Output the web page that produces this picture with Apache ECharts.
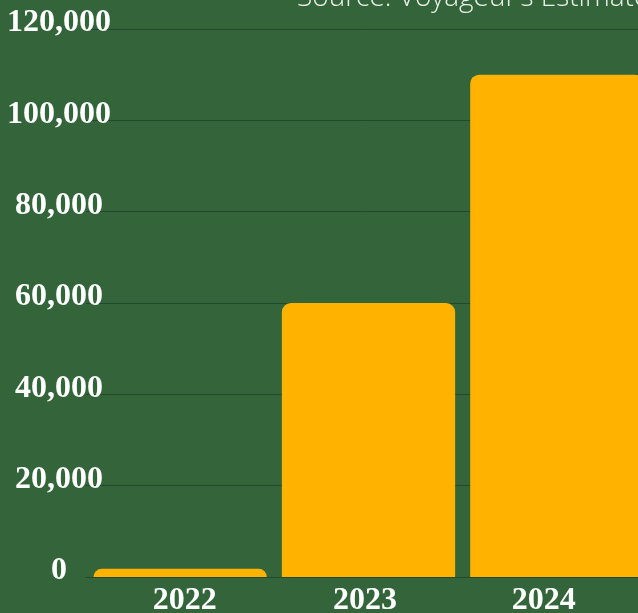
<!DOCTYPE html>
<html>
<head>
<meta charset="utf-8">
<script src="https://cdn.jsdelivr.net/npm/echarts@6/dist/echarts.min.js"></script>
<style>
  html, body { margin: 0; padding: 0; background: #34653a; }
  #chart { width: 638px; height: 613px; }
</style>
</head>
<body>
<div id="chart"></div>
<script>
// Yearly totals
const years = ['2022', '2023', '2024'];
const totals = [1800, 60000, 110000];
const yTicks = [0, 20000, 40000, 60000, 80000, 100000, 120000];
const sourceNote = 'Source: Voyageur\u2019s Estimates';

const BG = '#34653a';
const GRID_LINE = '#24482a';
const BAR = '#ffb300';
const LABEL_FONT = '"Liberation Serif", "DejaVu Serif", serif';

const chart = echarts.init(document.getElementById('chart'), null, { renderer: 'canvas' });

// per-label horizontal nudges for the year labels
const yearRich = {
  y0: { padding: [0, 0, 0, 9] },
  y1: { padding: [0, 7, 0, 0] },
  y2: { padding: [0, 26, 0, 0] }
};

chart.setOption({
  backgroundColor: BG,
  animation: false,
  grid: {
    left: 86, right: -13, top: 29, bottom: 36,
    containLabel: false,
    outerBoundsMode: 'none'
  },
  graphic: [{
    type: 'text',
    left: 297,
    top: -16,
    style: {
      text: sourceNote,
      fill: '#e9efe9',
      font: '300 28px "Open Sans", Lato, sans-serif'
    }
  }],
  xAxis: {
    type: 'category',
    data: years,
    axisTick: { show: false },
    axisLine: { show: true, lineStyle: { color: GRID_LINE, width: 1 } },
    axisLabel: {
      margin: 8,
      color: '#ffffff',
      fontFamily: LABEL_FONT,
      fontWeight: 'bold',
      fontSize: 32,
      formatter: (v, i) => '{y' + i + '|' + v + '}',
      rich: yearRich
    }
  },
  yAxis: {
    type: 'value',
    min: yTicks[0],
    max: yTicks[yTicks.length - 1],
    interval: yTicks[1] - yTicks[0],
    axisLine: { show: false },
    axisTick: { show: false },
    splitLine: { show: true, lineStyle: { color: GRID_LINE, width: 1 } },
    axisLabel: {
      margin: 27,
      align: 'center',
      verticalAlign: 'bottom',
      lineHeight: 12,
      color: '#ffffff',
      fontFamily: LABEL_FONT,
      fontWeight: 'bold',
      fontSize: 32,
      formatter: v => v.toLocaleString('en-US')
    }
  },
  series: [{
    type: 'bar',
    data: totals,
    barCategoryGap: '8%',
    itemStyle: { color: BAR, borderRadius: [9, 9, 0, 0] }
  }]
});
</script>
</body>
</html>
